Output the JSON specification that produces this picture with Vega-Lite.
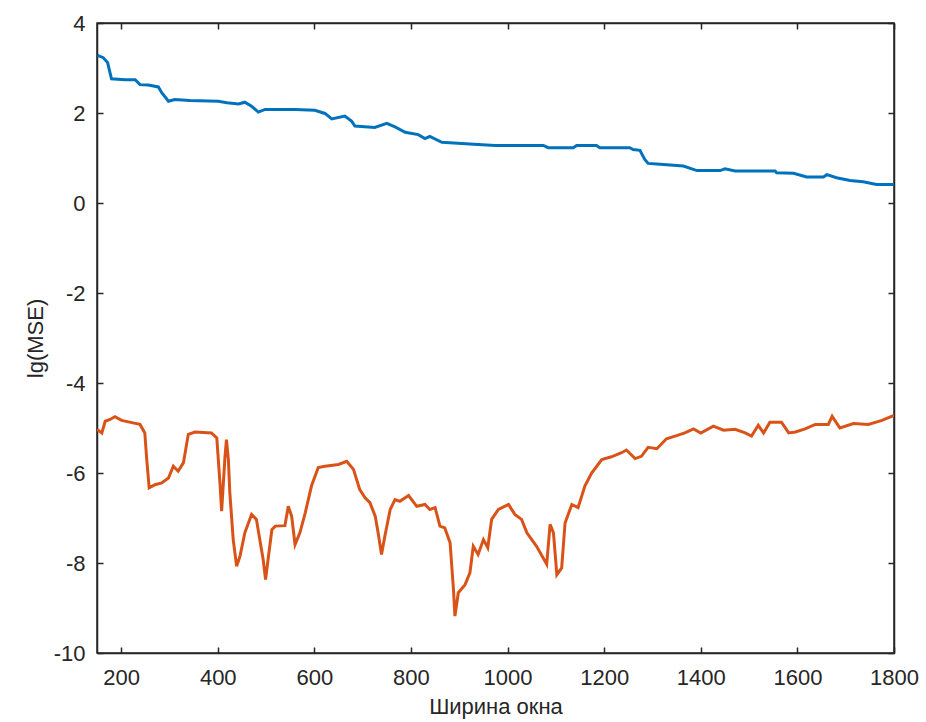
{
  "$schema": "https://vega.github.io/schema/vega-lite/v6.json",
  "width": 797,
  "height": 630,
  "autosize": {"type": "none"},
  "padding": {"left": 97, "top": 23, "right": 32, "bottom": 69},
  "background": "white",
  "config": {
    "view": {"stroke": "#262626", "strokeWidth": 1.5},
    "axis": {
      "grid": false,
      "domainColor": "#262626",
      "domainWidth": 1.5,
      "tickColor": "#262626",
      "tickWidth": 1.5,
      "labelColor": "#262626",
      "titleColor": "#262626",
      "labelFont": "Liberation Sans",
      "titleFont": "Liberation Sans",
      "labelFontSize": 22,
      "titleFontSize": 22,
      "titleFontWeight": "normal"
    }
  },
  "datasets": {
    "upper": [
      {"x": 151, "y": 3.28}, {"x": 163, "y": 3.23}, {"x": 172, "y": 3.12}, {"x": 177, "y": 2.89},
      {"x": 180, "y": 2.76}, {"x": 208, "y": 2.74}, {"x": 229, "y": 2.74}, {"x": 239, "y": 2.63},
      {"x": 256, "y": 2.62}, {"x": 277, "y": 2.58}, {"x": 284, "y": 2.45}, {"x": 298, "y": 2.26},
      {"x": 311, "y": 2.30}, {"x": 342, "y": 2.28}, {"x": 401, "y": 2.26}, {"x": 419, "y": 2.23},
      {"x": 443, "y": 2.20}, {"x": 456, "y": 2.24}, {"x": 470, "y": 2.15}, {"x": 484, "y": 2.02},
      {"x": 498, "y": 2.08}, {"x": 560, "y": 2.08}, {"x": 601, "y": 2.06}, {"x": 622, "y": 1.99},
      {"x": 636, "y": 1.87}, {"x": 663, "y": 1.93}, {"x": 677, "y": 1.82}, {"x": 684, "y": 1.71},
      {"x": 725, "y": 1.68}, {"x": 750, "y": 1.77}, {"x": 767, "y": 1.69}, {"x": 788, "y": 1.57},
      {"x": 815, "y": 1.52}, {"x": 829, "y": 1.43}, {"x": 839, "y": 1.48}, {"x": 864, "y": 1.35},
      {"x": 905, "y": 1.32}, {"x": 939, "y": 1.30}, {"x": 974, "y": 1.28}, {"x": 1074, "y": 1.28},
      {"x": 1084, "y": 1.23}, {"x": 1136, "y": 1.23}, {"x": 1143, "y": 1.28}, {"x": 1184, "y": 1.28},
      {"x": 1191, "y": 1.23}, {"x": 1253, "y": 1.23}, {"x": 1260, "y": 1.19}, {"x": 1274, "y": 1.17},
      {"x": 1284, "y": 0.97}, {"x": 1291, "y": 0.88}, {"x": 1316, "y": 0.86}, {"x": 1364, "y": 0.82},
      {"x": 1392, "y": 0.72}, {"x": 1440, "y": 0.72}, {"x": 1450, "y": 0.76}, {"x": 1471, "y": 0.71},
      {"x": 1554, "y": 0.71}, {"x": 1557, "y": 0.67}, {"x": 1592, "y": 0.66}, {"x": 1619, "y": 0.58},
      {"x": 1654, "y": 0.58}, {"x": 1661, "y": 0.63}, {"x": 1681, "y": 0.56}, {"x": 1709, "y": 0.50},
      {"x": 1736, "y": 0.47}, {"x": 1764, "y": 0.41}, {"x": 1800, "y": 0.41}
    ],
    "lower": [
      {"x": 150, "y": -5.03}, {"x": 160, "y": -5.11}, {"x": 167, "y": -4.85}, {"x": 177, "y": -4.81},
      {"x": 187, "y": -4.75}, {"x": 201, "y": -4.83}, {"x": 222, "y": -4.88}, {"x": 239, "y": -4.92},
      {"x": 249, "y": -5.11}, {"x": 253, "y": -5.70}, {"x": 258, "y": -6.33}, {"x": 270, "y": -6.26},
      {"x": 284, "y": -6.22}, {"x": 298, "y": -6.11}, {"x": 308, "y": -5.85}, {"x": 318, "y": -5.96},
      {"x": 329, "y": -5.77}, {"x": 339, "y": -5.14}, {"x": 353, "y": -5.09}, {"x": 387, "y": -5.11},
      {"x": 398, "y": -5.22}, {"x": 405, "y": -6.29}, {"x": 408, "y": -6.85}, {"x": 415, "y": -5.63},
      {"x": 418, "y": -5.26}, {"x": 422, "y": -5.70}, {"x": 425, "y": -6.44}, {"x": 432, "y": -7.48},
      {"x": 439, "y": -8.07}, {"x": 446, "y": -7.85}, {"x": 456, "y": -7.33}, {"x": 470, "y": -6.92},
      {"x": 480, "y": -7.03}, {"x": 487, "y": -7.48}, {"x": 494, "y": -7.92}, {"x": 499, "y": -8.37},
      {"x": 505, "y": -7.85}, {"x": 512, "y": -7.26}, {"x": 519, "y": -7.18}, {"x": 539, "y": -7.17},
      {"x": 546, "y": -6.74}, {"x": 553, "y": -6.96}, {"x": 560, "y": -7.59}, {"x": 570, "y": -7.33},
      {"x": 581, "y": -6.89}, {"x": 594, "y": -6.29}, {"x": 608, "y": -5.88}, {"x": 622, "y": -5.85},
      {"x": 650, "y": -5.81}, {"x": 667, "y": -5.74}, {"x": 681, "y": -5.92}, {"x": 694, "y": -6.37},
      {"x": 705, "y": -6.55}, {"x": 715, "y": -6.66}, {"x": 726, "y": -6.96}, {"x": 732, "y": -7.33},
      {"x": 739, "y": -7.81}, {"x": 746, "y": -7.40}, {"x": 757, "y": -6.81}, {"x": 767, "y": -6.59},
      {"x": 777, "y": -6.63}, {"x": 795, "y": -6.50}, {"x": 812, "y": -6.74}, {"x": 829, "y": -6.70},
      {"x": 839, "y": -6.81}, {"x": 850, "y": -6.77}, {"x": 860, "y": -7.18}, {"x": 870, "y": -7.22},
      {"x": 881, "y": -7.55}, {"x": 888, "y": -8.59}, {"x": 891, "y": -9.18}, {"x": 898, "y": -8.66},
      {"x": 912, "y": -8.48}, {"x": 922, "y": -8.22}, {"x": 929, "y": -7.63}, {"x": 939, "y": -7.81},
      {"x": 950, "y": -7.48}, {"x": 959, "y": -7.66}, {"x": 967, "y": -7.03}, {"x": 981, "y": -6.81},
      {"x": 1002, "y": -6.70}, {"x": 1015, "y": -6.92}, {"x": 1029, "y": -7.03}, {"x": 1040, "y": -7.33},
      {"x": 1060, "y": -7.63}, {"x": 1081, "y": -8.03}, {"x": 1088, "y": -7.14}, {"x": 1095, "y": -7.33},
      {"x": 1102, "y": -8.26}, {"x": 1112, "y": -8.11}, {"x": 1119, "y": -7.11}, {"x": 1133, "y": -6.70},
      {"x": 1146, "y": -6.77}, {"x": 1160, "y": -6.29}, {"x": 1174, "y": -6.00}, {"x": 1195, "y": -5.70},
      {"x": 1215, "y": -5.64}, {"x": 1236, "y": -5.55}, {"x": 1246, "y": -5.49}, {"x": 1264, "y": -5.68},
      {"x": 1277, "y": -5.63}, {"x": 1291, "y": -5.43}, {"x": 1309, "y": -5.46}, {"x": 1329, "y": -5.24},
      {"x": 1350, "y": -5.17}, {"x": 1367, "y": -5.11}, {"x": 1385, "y": -5.02}, {"x": 1400, "y": -5.11},
      {"x": 1426, "y": -4.96}, {"x": 1447, "y": -5.05}, {"x": 1471, "y": -5.03}, {"x": 1492, "y": -5.11},
      {"x": 1505, "y": -5.18}, {"x": 1519, "y": -4.94}, {"x": 1530, "y": -5.11}, {"x": 1543, "y": -4.87},
      {"x": 1567, "y": -4.87}, {"x": 1582, "y": -5.11}, {"x": 1596, "y": -5.09}, {"x": 1616, "y": -5.02},
      {"x": 1637, "y": -4.92}, {"x": 1664, "y": -4.92}, {"x": 1672, "y": -4.74}, {"x": 1688, "y": -5.00},
      {"x": 1716, "y": -4.90}, {"x": 1747, "y": -4.92}, {"x": 1775, "y": -4.83}, {"x": 1800, "y": -4.72}
    ]
  },
  "layer": [
    {
      "data": {"name": "upper"},
      "mark": {"type": "line", "color": "#0072BD", "strokeWidth": 3, "clip": true},
      "encoding": {
        "x": {
          "field": "x", "type": "quantitative",
          "scale": {"domain": [150, 1800], "nice": false, "zero": false},
          "axis": {
            "orient": "bottom", "title": "Ширина окна",
            "values": [200, 400, 600, 800, 1000, 1200, 1400, 1600, 1800],
            "labelExpr": "datum.value + ''",
            "tickSize": -6, "labelPadding": 20, "titlePadding": 8, "labelFlush": false
          }
        },
        "y": {
          "field": "y", "type": "quantitative",
          "scale": {"domain": [-10, 4], "nice": false, "zero": false},
          "axis": {
            "orient": "left", "title": "lg(MSE)",
            "values": [-10, -8, -6, -4, -2, 0, 2, 4],
            "labelExpr": "datum.value + ''",
            "tickSize": -6, "labelPadding": 18, "titlePadding": 6, "labelFlush": false
          }
        }
      }
    },
    {
      "data": {"name": "lower"},
      "mark": {"type": "line", "color": "#D95319", "strokeWidth": 3, "clip": true},
      "encoding": {
        "x": {
          "field": "x", "type": "quantitative",
          "scale": {"domain": [150, 1800], "nice": false, "zero": false},
          "axis": {
            "orient": "top", "title": null, "labels": false,
            "values": [200, 400, 600, 800, 1000, 1200, 1400, 1600, 1800],
            "tickSize": -6
          }
        },
        "y": {
          "field": "y", "type": "quantitative",
          "scale": {"domain": [-10, 4], "nice": false, "zero": false},
          "axis": {
            "orient": "right", "title": null, "labels": false,
            "values": [-10, -8, -6, -4, -2, 0, 2, 4],
            "tickSize": -6
          }
        }
      }
    }
  ],
  "resolve": {"axis": {"x": "independent", "y": "independent"}}
}
